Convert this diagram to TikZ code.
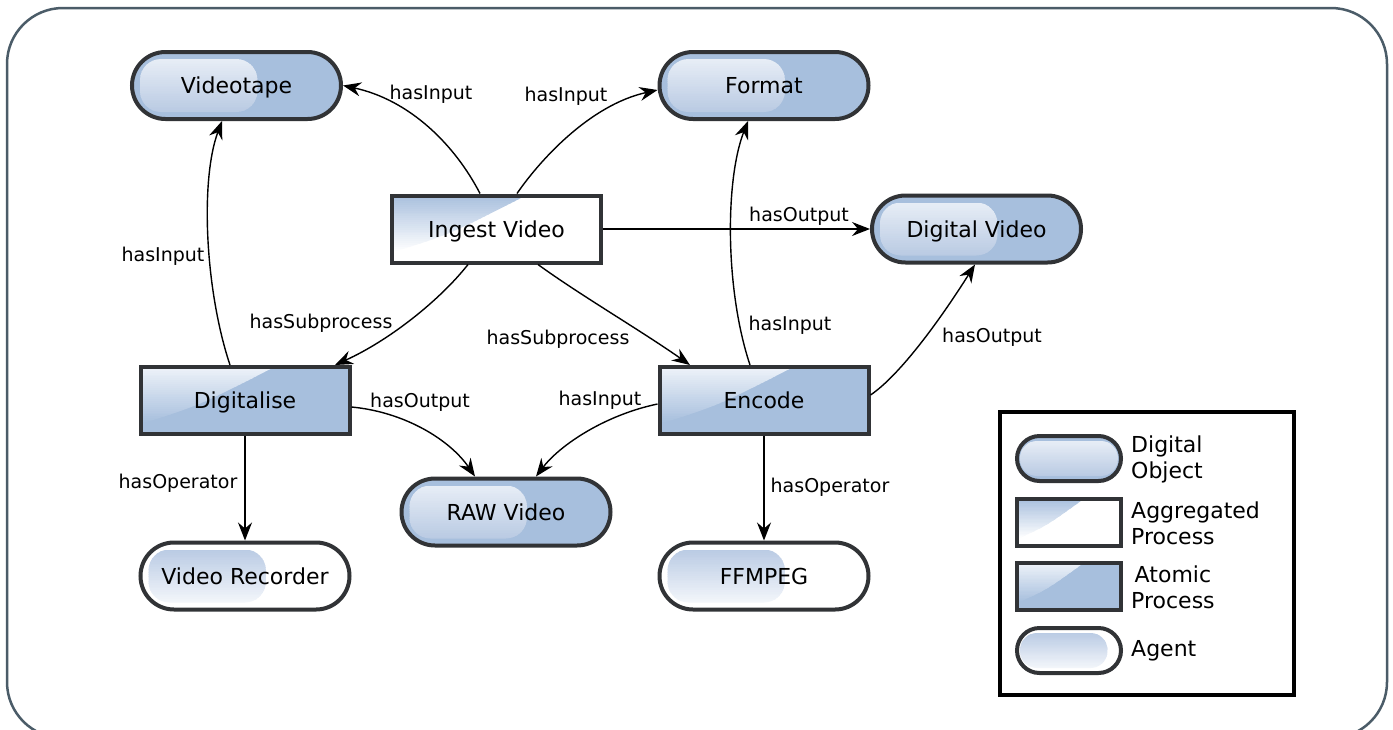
\documentclass[tikz,border=0pt]{standalone}
\usepackage{fontspec}
\setmainfont{DejaVu Sans}
\usetikzlibrary{shapes.misc,calc,arrows.meta}
\definecolor{objblue}{HTML}{A7BFDD}
\definecolor{bord}{HTML}{313336}
\definecolor{frm}{HTML}{4B5C68}
\definecolor{hlt}{HTML}{E7EDF6}
\definecolor{hlb}{HTML}{BACBE3}
\definecolor{aht}{HTML}{BACBE4}
\definecolor{ahb}{HTML}{F2F5FA}
\definecolor{glb}{HTML}{A9C0DE}
\definecolor{glw}{HTML}{EDF2F9}
\tikzset{
  nodebase/.style={draw=bord, line width=4pt, inner sep=0pt, outer sep=2pt, font=\fontsize{22}{26}\selectfont, text=black, text height=16pt, text depth=0pt},
  bigsize/.style={minimum width=209pt, minimum height=67pt},
  pillsmall/.style={minimum width=104pt, minimum height=45pt},
  rectsmall/.style={minimum width=104pt, minimum height=47pt},
  dobj/.style={nodebase, rounded rectangle, fill=objblue},
  agent/.style={nodebase, rounded rectangle, fill=white},
  aggp/.style={nodebase, rectangle, fill=white},
  atom/.style={nodebase, rectangle, fill=objblue},
  % #1 top colour, #2 bottom colour, #3 right fraction, #4 x inset, #5 y inset, #6 radius, #7 node height
  pillhl/.style n args={7}{path picture={
    \begin{scope}
    \clip[rounded corners=#6]
      ($(path picture bounding box.north west)+(#4,-#5)$) rectangle
      ($(path picture bounding box.south west)!#3!(path picture bounding box.south east)+(0pt,#5)$);
    \foreach \i in {0,...,29}{
      \pgfmathsetmacro\pp{100*\i/29}
      \fill[#2!\pp!#1]
        ($(path picture bounding box.north west)+(0pt,{-#5-\i*(#7-2*#5)/30})$) rectangle
        ($(path picture bounding box.north east)+(0pt,{-#5-(\i+1)*(#7-2*#5)/30-0.6pt})$);
    }
    \end{scope}}},
  % #1 top colour, #2 bottom colour, #3 width, #4 height
  gloss/.style n args={4}{path picture={
    \begin{scope}
    \clip (path picture bounding box.north west)
      -- ($(path picture bounding box.north west)+({0.64*#3},0pt)$)
      .. controls ($(path picture bounding box.north west)+({0.28*#3},{-0.575*#4})$)
      .. ($(path picture bounding box.north west)+(0pt,{-0.85*#4})$) -- cycle;
    \foreach \i in {0,...,29}{
      \pgfmathsetmacro\pp{100*\i/29}
      \fill[#2!\pp!#1]
        ($(path picture bounding box.north west)+(0pt,{-\i*0.85*#4/30})$) rectangle
        ($(path picture bounding box.north east)+(0pt,{-(\i+1)*0.85*#4/30-0.6pt})$);
    }
    \end{scope}}},
  conn/.style={line width=1.4pt, draw=black, -{Stealth[length=18pt,width=14pt,inset=6pt]}},
  lbl/.style={font=\fontsize{19}{22}\selectfont, inner sep=0pt, text=black},
  legtxt/.style={font=\fontsize{22}{26}\selectfont, inner sep=0pt, text=black, anchor=west}
}
\begin{document}
\begin{tikzpicture}[x=1pt,y=1pt]
\useasboundingbox (0,0) rectangle (1393,-729);
\clip (0,0) rectangle (1393,-729);
\fill[white] (0,0) rectangle (1393,-729);
\draw[draw=frm, line width=2.5pt, rounded corners=56pt] (7,-8) rectangle (1387,-738);

% nodes
\node[dobj,bigsize,pillhl={hlt}{hlb}{0.6}{8pt}{7pt}{21pt}{67pt}] (vt) at (236.5,-85.5) {Videotape};
\node[dobj,bigsize,pillhl={hlt}{hlb}{0.6}{8pt}{7pt}{21pt}{67pt}] (fmt) at (764,-85.5) {Format};
\node[aggp,bigsize,gloss={glb}{white}{209pt}{67pt}] (ing) at (496.5,-229) {Ingest Video};
\node[dobj,bigsize,pillhl={hlt}{hlb}{0.6}{8pt}{7pt}{21pt}{67pt}] (dv) at (976.5,-229) {Digital Video};
\node[atom,bigsize,gloss={glw}{objblue}{209pt}{67pt}] (dig) at (245,-400.5) {Digitalise};
\node[atom,bigsize,gloss={glw}{objblue}{209pt}{67pt}] (enc) at (764,-400.5) {Encode};
\node[dobj,bigsize,pillhl={hlt}{hlb}{0.6}{8pt}{7pt}{21pt}{67pt}] (raw) at (506,-512) {RAW Video};
\node[agent,bigsize,pillhl={aht}{ahb}{0.6}{8pt}{7pt}{21pt}{67pt}] (vr) at (245,-576) {Video Recorder};
\node[agent,bigsize,pillhl={aht}{ahb}{0.6}{8pt}{7pt}{21pt}{67pt}] (ff) at (764,-576) {FFMPEG};

% connectors
\draw[conn] ([xshift=-16.5pt]ing.north) .. controls (455,-145) and (410,-100) .. (vt.east);
\draw[conn] ([xshift=20.5pt]ing.north) .. controls (540,-160) and (590,-105) .. ([yshift=-4.5pt]fmt.west);
\draw[conn] (ing.east) -- (dv.west);
\draw[conn] ([xshift=-28.5pt]ing.south) .. controls (440,-300) and (390,-340) .. ([xshift=90pt]dig.north);
\draw[conn] ([xshift=41.5pt]ing.south) .. controls (580,-295) and (640,-330) .. ([xshift=-74pt]enc.north);
\draw[conn] ([xshift=-15pt]dig.north) .. controls (205,-290) and (200,-180) .. ([xshift=-14.5pt]vt.south);
\draw[conn] ([xshift=-14pt]enc.north) .. controls (725,-290) and (725,-180) .. ([xshift=-16pt]fmt.south);
\draw[conn] ([yshift=5.5pt]enc.east) .. controls (900,-375) and (940,-320) .. ([xshift=-1.5pt]dv.south);
\draw[conn] ([yshift=-6.5pt]dig.east) .. controls (405,-412) and (450,-440) .. ([xshift=-31pt]raw.north);
\draw[conn] ([yshift=-3.5pt]enc.west) .. controls (605,-415) and (560,-445) .. ([xshift=30pt]raw.north);
\draw[conn] (dig.south) -- (vr.north);
\draw[conn] (enc.south) -- (ff.north);

% labels
\node[lbl] (l1) at (431,-94) {hasInput};
\node[lbl] (l2) at (566,-96) {hasInput};
\node[lbl] (l3) at (799,-216) {hasOutput};
\node[lbl] (l4) at (321,-323) {hasSubprocess};
\node[lbl] (l5) at (558,-339) {hasSubprocess};
\node[lbl] (l6) at (163,-256) {hasInput};
\node[lbl] (l7) at (790,-325) {hasInput};
\node[lbl] (l8) at (992,-337) {hasOutput};
\node[lbl] (l9) at (420,-402) {hasOutput};
\node[lbl] (l10) at (600,-400) {hasInput};
\node[lbl] (l11) at (178,-483) {hasOperator};
\node[lbl] (l12) at (830,-487) {hasOperator};

% legend
\node[draw=black, line width=4pt, minimum width=294pt, minimum height=283pt, inner sep=0pt] (leg) at (1147,-553.5) {};
\node[dobj,pillsmall,pillhl={hlt}{hlb}{0.97}{3pt}{5pt}{17pt}{45pt}] (lg1) at (1069,-458.5) {};
\node[aggp,rectsmall,gloss={glb}{white}{104pt}{47pt}] (lg2) at (1069,-522.5) {};
\node[atom,rectsmall,gloss={glw}{objblue}{104pt}{47pt}] (lg3) at (1069,-586.5) {};
\node[agent,pillsmall,pillhl={aht}{ahb}{0.87}{3pt}{5pt}{17pt}{45pt}] (lg4) at (1069,-650.5) {};
\node[legtxt, align=left] (t1) at (1131,-459) {Digital\\Object};
\node[legtxt, align=left] (t2) at (1131,-523) {Aggregated\\Process};
\node[legtxt, align=center] (t3) at (1131,-587) {Atomic\\Process};
\node[legtxt] (t4) at (1131,-651) {Agent};
\end{tikzpicture}
\end{document}
